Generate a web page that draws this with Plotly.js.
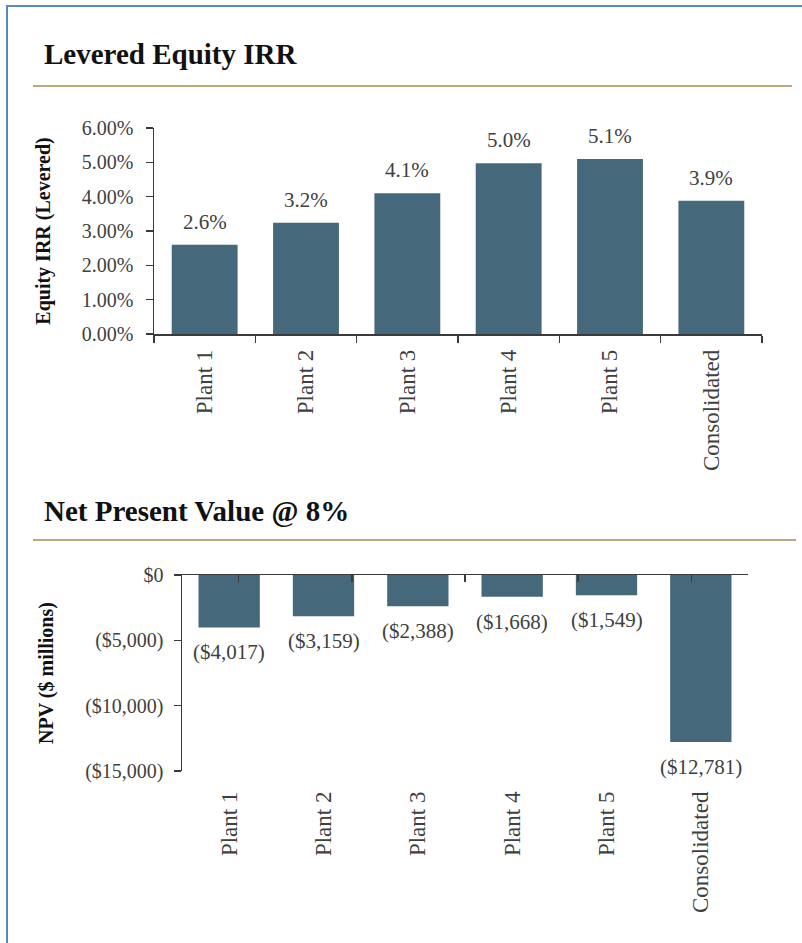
<!DOCTYPE html>
<html>
<head>
<meta charset="utf-8">
<script src="https://cdn.plot.ly/plotly-3.0.1.min.js"></script>
<style>
  html, body { margin:0; padding:0; width:802px; height:943px; overflow:hidden; background:#fff; }
  #chart { position:absolute; left:0; top:0; width:802px; height:943px; }
  #frame { position:absolute; left:6px; top:5px; width:900px; height:1000px;
           border-left:2px solid #5a88c6; border-top:2px solid #5a88c6; pointer-events:none; }
</style>
</head>
<body>
<div id="chart"></div>
<div id="frame"></div>
<script>
// ---- data ----
const categories = ['Plant 1', 'Plant 2', 'Plant 3', 'Plant 4', 'Plant 5', 'Consolidated'];
const irrValues = [0.026, 0.0324, 0.041, 0.0497, 0.051, 0.0388];
const npvValues = [-4017, -3159, -2388, -1668, -1549, -12781];
const irrTickVals = [0, 0.01, 0.02, 0.03, 0.04, 0.05, 0.06];
const npvTickVals = [0, -5000, -10000, -15000];
const npvTickText = ['$0', '($5,000)', '($10,000)', '($15,000)'];
const chartTitle1 = 'Levered Equity IRR';
const chartTitle2 = 'Net Present Value @ 8%';
const yTitle1 = 'Equity IRR (Levered)';
const yTitle2 = 'NPV ($ millions)';

// ---- styling ----
const W = 802, H = 943;
const px = v => v / W;
const py = v => 1 - v / H;
const FONT = 'Liberation Serif, Times New Roman, serif';
const BAR = '#46687b';
const GOLD = '#b9aa7d';
const AX = '#3a3a3a';
const TXT = '#404040';

const fmtNpv = v => (v < 0 ? '($' + Math.abs(v).toLocaleString('en-US') + ')' : '$' + v.toLocaleString('en-US'));
const fmtIrr = v => (v * 100).toFixed(1) + '%';

const traces = [
  { type:'bar', x:categories, y:irrValues, xaxis:'x', yaxis:'y',
    marker:{color:BAR, line:{width:0}}, hoverinfo:'skip', showlegend:false },
  { type:'bar', x:categories, y:npvValues, xaxis:'x2', yaxis:'y2',
    marker:{color:BAR, line:{width:0}}, hoverinfo:'skip', showlegend:false },
  // carrier for the zero-line category axis on the NPV chart
  { type:'scatter', mode:'none', x:categories, y:categories.map(() => 0), xaxis:'x3', yaxis:'y2',
    hoverinfo:'skip', showlegend:false }
];

const annotations = [];
categories.forEach((c, i) => {
  annotations.push({ xref:'x', yref:'y', x:c, y:irrValues[i], text:fmtIrr(irrValues[i]),
    showarrow:false, yanchor:'bottom', yshift:9, font:{family:FONT, size:21, color:TXT} });
  annotations.push({ xref:'x2', yref:'y2', x:c, y:npvValues[i], text:fmtNpv(npvValues[i]),
    showarrow:false, yanchor:'top', yshift:-11, font:{family:FONT, size:21, color:TXT} });
});
annotations.push({ xref:'paper', yref:'paper', x:px(42), y:py(72), xanchor:'left', yanchor:'bottom',
  text:'<b>' + chartTitle1 + '</b>', showarrow:false, font:{family:FONT, size:29, color:'#111'} });
annotations.push({ xref:'paper', yref:'paper', x:px(42), y:py(529), xanchor:'left', yanchor:'bottom',
  text:'<b>' + chartTitle2 + '</b>', showarrow:false, font:{family:FONT, size:29, color:'#111'} });

const layout = {
  width:W, height:H,
  margin:{l:0, r:0, t:0, b:0},
  paper_bgcolor:'#fff', plot_bgcolor:'#fff',
  bargap:0.35,
  font:{family:FONT, color:TXT},
  showlegend:false,
  xaxis:{ domain:[px(154), px(762)], anchor:'y', type:'category',
    showline:true, linecolor:AX, linewidth:1.5, ticks:'outside', ticklen:7, tickcolor:AX, tickwidth:1.5,
    tickson:'boundaries', tickangle:-90, ticklabelstandoff:5, showgrid:false, zeroline:false,
    tickfont:{family:FONT, size:23, color:TXT} },
  yaxis:{ domain:[py(334), py(128)], anchor:'x', range:[0, 0.06], tickvals:irrTickVals, tickformat:'.2%',
    showline:true, linecolor:AX, linewidth:1.5, ticks:'outside', ticklen:7, tickcolor:AX, tickwidth:1.5,
    ticklabelstandoff:8, showgrid:false, zeroline:false,
    tickfont:{family:FONT, size:20, color:TXT},
    title:{text:'<b>' + yTitle1 + '</b>', standoff:26, font:{family:FONT, size:20, color:'#111'}} },
  xaxis2:{ domain:[px(182), px(748)], anchor:'y2', type:'category',
    showline:false, ticks:'', tickangle:-90, ticklabelstandoff:15, showgrid:false, zeroline:false,
    tickfont:{family:FONT, size:23, color:TXT} },
  xaxis3:{ domain:[px(182), px(748)], anchor:'y2', overlaying:'x2', side:'top', type:'category',
    showline:true, linecolor:AX, linewidth:1.5, ticks:'inside', ticklen:7, tickcolor:AX, tickwidth:1.5,
    tickson:'boundaries', showticklabels:false, showgrid:false, zeroline:false },
  yaxis2:{ domain:[py(771), py(575)], anchor:'x2', range:[-15000, 0], tickvals:npvTickVals, ticktext:npvTickText,
    showline:true, linecolor:AX, linewidth:1.5, ticks:'outside', ticklen:7, tickcolor:AX, tickwidth:1.5,
    ticklabelstandoff:6, showgrid:false, zeroline:false,
    tickfont:{family:FONT, size:20, color:TXT},
    title:{text:'<b>' + yTitle2 + '</b>', standoff:26, font:{family:FONT, size:20, color:'#111'}} },
  annotations:annotations,
  shapes:[
    { type:'line', xref:'paper', yref:'paper', x0:px(33), x1:px(792), y0:py(86), y1:py(86),
      line:{color:GOLD, width:2} },
    { type:'line', xref:'paper', yref:'paper', x0:px(33), x1:px(796), y0:py(540), y1:py(540),
      line:{color:GOLD, width:2} }
  ]
};

Plotly.newPlot('chart', traces, layout, {staticPlot:true, displayModeBar:false});
</script>
</body>
</html>
